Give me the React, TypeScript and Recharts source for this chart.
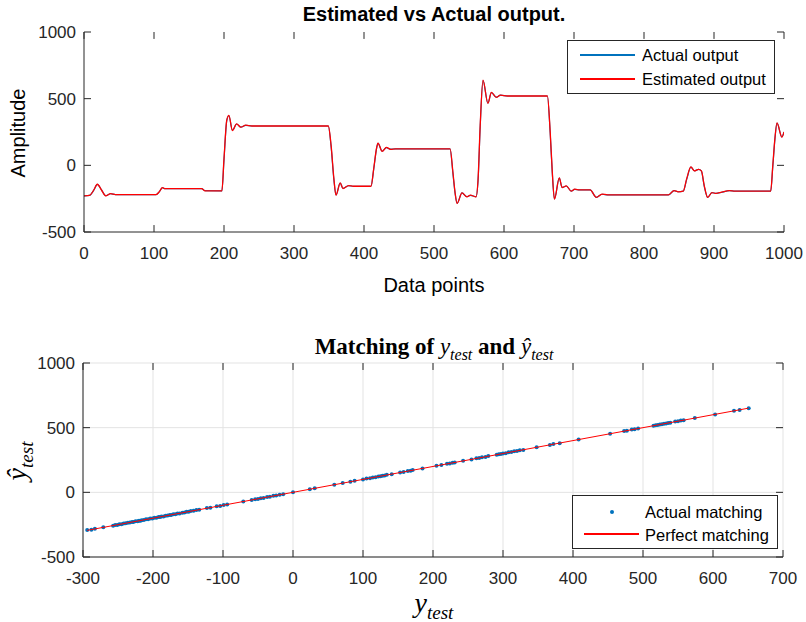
import React from 'react';
import { LineChart, Line, ScatterChart, Scatter, XAxis, YAxis, CartesianGrid, ReferenceLine } from 'recharts';

// sample index along the test set
const sampleIdx = [
  0, 8, 14, 19, 25, 31, 38, 45, 103, 108, 112, 115, 168, 173, 197, 200, 204, 207, 212, 218,
  224, 231, 240, 349, 353, 357, 360, 366, 370, 378, 385, 410, 414, 418, 420, 426, 432, 438, 445, 523,
  527, 530, 533, 540, 547, 552, 560, 563, 566, 570, 577, 582, 589, 595, 605, 662, 666, 669, 672, 679,
  683, 689, 696, 701, 708, 723, 732, 740, 748, 835, 843, 849, 856, 861, 867, 872, 878, 882, 886, 891,
  897, 903, 911, 922, 930, 981, 984, 987, 990, 997, 1000,
];

const actualOutput = [
  -229, -226, -186, -143, -184, -228, -213, -219, -219, -196, -168, -174, -174, -190, -191, 40, 338, 372, 263, 310,
  287, 300, 295, 295, 140, -110, -222, -134, -173, -153, -157, -157, -25, 128, 165, 106, 133, 121, 124, 124,
  -60, -205, -284, -207, -235, -225, -236, -110, 290, 636, 467, 545, 511, 526, 520, 520, 240, -60, -252, -96,
  -166, -155, -193, -180, -184, -184, -240, -217, -221, -221, -190, -198, -194, -105, -14, -41, -31, -43, -155, -240,
  -205, -210, -202, -190, -194, -194, -10, 195, 316, 213, 250,
];

const estimatedOutput = [
  -229, -225, -185, -142, -185, -229, -212, -219, -219, -195, -167, -174, -174, -191, -191, 50, 340, 375, 261, 311,
  286, 301, 295, 295, 150, -100, -224, -132, -174, -152, -157, -157, -20, 130, 167, 104, 134, 120, 124, 124,
  -50, -200, -286, -206, -236, -224, -236, -100, 300, 639, 465, 547, 510, 527, 520, 520, 250, -50, -254, -94,
  -167, -154, -194, -179, -184, -184, -241, -216, -221, -221, -189, -199, -194, -100, -12, -42, -30, -42, -150, -241,
  -204, -211, -201, -189, -194, -194, 0, 200, 318, 211, 250,
];

// true test outputs vs model prediction
const yTest = [
  -294, -288, -283, -271, -257, -254, -251, -248, -245, -242, -239, -236, -233, -230, -228, -225, -222, -220, -218, -216,
  -213, -210, -207, -204, -201, -198, -195, -192, -190, -188, -185, -182, -179, -176, -174, -171, -168, -165, -162, -158,
  -155, -152, -149, -146, -142, -138, -134, -123, -118, -109, -104, -99, -94, -71, -59, -54, -50, -46, -42, -37,
  -33, -28, -24, -19, -14, 0, 24, 31, 59, 71, 82, 88, 100, 105, 110, 114, 118, 122, 125, 128,
  131, 134, 141, 153, 158, 164, 168, 171, 185, 205, 212, 220, 224, 228, 231, 243, 255, 262, 266, 270,
  275, 279, 291, 294, 297, 300, 304, 308, 312, 316, 320, 324, 329, 348, 367, 372, 381, 408, 453, 473,
  477, 484, 488, 493, 515, 518, 521, 524, 527, 530, 533, 536, 539, 546, 550, 554, 558, 574, 603, 630,
  638, 651,
];

const yHatTest = [
  -292, -289, -282, -270, -258, -253, -252, -247, -246, -241, -240, -235, -234, -229, -229, -224, -223, -219, -219, -215,
  -214, -209, -208, -203, -202, -197, -196, -191, -191, -187, -186, -181, -180, -175, -175, -170, -169, -164, -163, -157,
  -156, -151, -150, -145, -143, -137, -135, -122, -119, -108, -105, -98, -95, -70, -60, -53, -51, -45, -43, -36,
  -34, -27, -25, -18, -15, 1, 23, 32, 58, 72, 81, 89, 99, 106, 109, 115, 117, 123, 124, 129,
  130, 135, 140, 154, 157, 165, 167, 172, 184, 206, 211, 221, 223, 229, 230, 244, 254, 263, 265, 271,
  274, 280, 290, 295, 296, 301, 303, 309, 311, 317, 319, 325, 328, 349, 366, 373, 380, 409, 452, 474,
  476, 485, 487, 494, 514, 519, 520, 525, 526, 531, 532, 537, 538, 547, 549, 555, 557, 575, 602, 631,
  637, 650,
];

const perfectEnds = [-294, 651];

const topXTicks = [0, 100, 200, 300, 400, 500, 600, 700, 800, 900, 1000];
const topYTicks = [-500, 0, 500, 1000];
const botXTicks = [-300, -200, -100, 0, 100, 200, 300, 400, 500, 600, 700];
const botYTicks = [-500, 0, 500, 1000];

const AX = '#262626';
const BLUE = '#0072BD';
const RED = '#FF0000';
const SANS = '"Liberation Sans", Arial, sans-serif';
const SERIF = '"Liberation Serif", "DejaVu Serif", serif';

const actualData = sampleIdx.map((x, i) => ({ x, y: actualOutput[i] }));
const estimatedData = sampleIdx.map((x, i) => ({ x, y: estimatedOutput[i] }));
const matchData = yTest.map((x, i) => ({ x, y: yHatTest[i] }));
const perfectData = perfectEnds.map(v => ({ x: v, y: v }));

const tickFont = { fill: AX, fontSize: 17, fontFamily: SANS };
const axisBits = { axisLine: { stroke: AX }, tickLine: false, tickSize: 0, interval: 0 as const, allowDataOverflow: true };

// inward tick marks on all four sides of the box; lx / ly are the tick length in data units
function boxTicks(xt: number[], yt: number[], xd: number[], yd: number[], lx: number, ly: number) {
  const segs: { x: number; y: number }[][] = [];
  xt.forEach(x => {
    segs.push([{ x, y: yd[0] }, { x, y: yd[0] + ly }]);
    segs.push([{ x, y: yd[1] }, { x, y: yd[1] - ly }]);
  });
  yt.forEach(y => {
    segs.push([{ x: xd[0], y }, { x: xd[0] + lx, y }]);
    segs.push([{ x: xd[1], y }, { x: xd[1] - lx, y }]);
  });
  return segs.map((s, i) => (
    <ReferenceLine key={i} segment={s} stroke={AX} strokeWidth={1} ifOverflow="visible" />
  ));
}

const legendBox: React.CSSProperties = {
  position: 'absolute', background: '#fff', border: `1px solid ${AX}`, fontFamily: SANS, fontSize: 16.5, color: '#000', lineHeight: '20px',
};
const sub: React.CSSProperties = { fontStyle: 'italic', verticalAlign: '-0.35em', lineHeight: 0 };

export default function App() {
  return (
    <div style={{ position: 'absolute', left: 0, top: 0, width: 806, height: 622, background: '#fff', overflow: 'hidden' }}>
      <div style={{ position: 'absolute', left: 0, top: 0 }}>
        <LineChart width={806} height={300} margin={{ top: 32, right: 22, bottom: 0, left: 0 }}>
          <XAxis type="number" dataKey="x" domain={[0, 1000]} ticks={topXTicks} height={68}
            tickMargin={15} tick={tickFont} {...axisBits} />
          <XAxis xAxisId="top" orientation="top" type="number" domain={[0, 1000]} ticks={topXTicks} height={0}
            tick={false} {...axisBits} />
          <YAxis type="number" domain={[-500, 1000]} ticks={topYTicks} width={84}
            tickMargin={8} tick={tickFont} {...axisBits} />
          <YAxis yAxisId="right" orientation="right" type="number" domain={[-500, 1000]} ticks={topYTicks} width={0}
            tick={false} {...axisBits} />
          {boxTicks(topXTicks, topYTicks, [0, 1000], [-500, 1000], 10, 52)}
          <Line data={actualData} dataKey="y" type="monotone" stroke={BLUE} strokeWidth={1.2} dot={false} isAnimationActive={false} />
          <Line data={estimatedData} dataKey="y" type="monotone" stroke={RED} strokeWidth={1.3} dot={false} isAnimationActive={false} />
        </LineChart>
      </div>

      <div style={{ position: 'absolute', left: 0, top: 300 }}>
        <ScatterChart width={806} height={322} margin={{ top: 63, right: 23, bottom: 0, left: 0 }}>
          <CartesianGrid stroke="#e3e3e3" />
          <XAxis type="number" dataKey="x" domain={[-300, 700]} ticks={botXTicks} height={65}
            tickMargin={15} tick={tickFont} {...axisBits} />
          <XAxis xAxisId="top" orientation="top" type="number" domain={[-300, 700]} ticks={botXTicks} height={0}
            tick={false} {...axisBits} />
          <YAxis type="number" dataKey="y" domain={[-500, 1000]} ticks={botYTicks} width={83}
            tickMargin={8} tick={tickFont} {...axisBits} />
          <YAxis yAxisId="right" orientation="right" type="number" domain={[-500, 1000]} ticks={botYTicks} width={0}
            tick={false} {...axisBits} />
          {boxTicks(botXTicks, botYTicks, [-300, 700], [-500, 1000], 10, 54)}
          <Scatter data={matchData} fill={BLUE} isAnimationActive={false}
            shape={(p: any) => <circle cx={p.cx} cy={p.cy} r={2} fill={BLUE} />} />
          <Scatter data={perfectData} line={{ stroke: RED, strokeWidth: 1 }} lineType="joint" isAnimationActive={false}
            shape={() => <g />} />
        </ScatterChart>
      </div>

      {/* titles and axis labels */}
      <div style={{ position: 'absolute', left: 0, width: 868, top: 3, lineHeight: '22px', textAlign: 'center', fontFamily: SANS, fontWeight: 'bold', fontSize: 20, color: '#000' }}>
        Estimated vs Actual output.
      </div>
      <div style={{ position: 'absolute', left: 0, width: 868, top: 273, lineHeight: '24px', textAlign: 'center', fontFamily: SANS, fontSize: 20, color: '#000' }}>
        Data points
      </div>
      <div style={{ position: 'absolute', left: 18, top: 133, lineHeight: '24px', transform: 'translate(-50%, -50%) rotate(-90deg)', fontFamily: SANS, fontSize: 20, color: '#000', whiteSpace: 'nowrap' }}>
        Amplitude
      </div>
      <div style={{ position: 'absolute', left: 0, width: 868, top: 334, lineHeight: '26px', textAlign: 'center', fontFamily: SERIF, fontSize: 23, color: '#000' }}>
        <b>Matching of </b><i>y</i><span style={{ ...sub, fontSize: 16 }}>test</span><b> and </b><i>ŷ</i><span style={{ ...sub, fontSize: 16 }}>test</span>
      </div>
      <div style={{ position: 'absolute', left: 0, width: 868, top: 589, lineHeight: '28px', textAlign: 'center', fontFamily: SERIF, fontSize: 28, color: '#000' }}>
        <i>y</i><span style={{ ...sub, fontSize: 19 }}>test</span>
      </div>
      <div style={{ position: 'absolute', left: 17, top: 461, lineHeight: '28px', transform: 'translate(-50%, -50%) rotate(-90deg)', fontFamily: SERIF, fontSize: 28, color: '#000', whiteSpace: 'nowrap' }}>
        <i>ŷ</i><span style={{ ...sub, fontSize: 19 }}>test</span>
      </div>

      {/* legends */}
      <div style={{ ...legendBox, left: 567, top: 40, width: 206, height: 52 }}>
        <div style={{ position: 'absolute', left: 12, top: 13, width: 55, height: 2, background: BLUE }} />
        <div style={{ position: 'absolute', left: 74, top: 4 }}>Actual output</div>
        <div style={{ position: 'absolute', left: 12, top: 37, width: 55, height: 2, background: RED }} />
        <div style={{ position: 'absolute', left: 74, top: 28 }}>Estimated output</div>
      </div>
      <div style={{ ...legendBox, left: 572, top: 495, width: 204, height: 52 }}>
        <div style={{ position: 'absolute', left: 37, top: 14, width: 4, height: 4, borderRadius: 2, background: BLUE }} />
        <div style={{ position: 'absolute', left: 72, top: 6 }}>Actual matching</div>
        <div style={{ position: 'absolute', left: 11, top: 37, width: 55, height: 1.5, background: RED }} />
        <div style={{ position: 'absolute', left: 72, top: 29 }}>Perfect matching</div>
      </div>
    </div>
  );
}
